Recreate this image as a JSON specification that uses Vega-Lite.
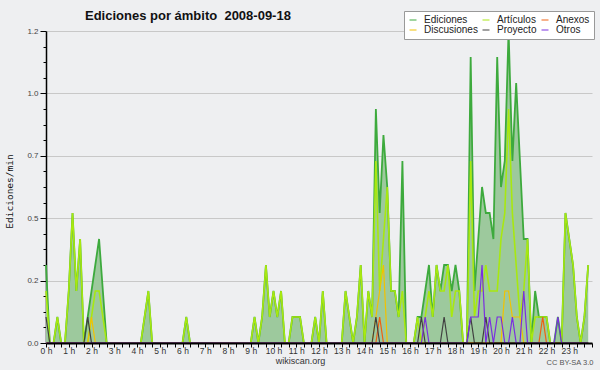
{
  "$schema": "https://vega.github.io/schema/vega-lite/v6.json",
  "width": 546,
  "height": 312,
  "autosize": "none",
  "padding": {"left": 46, "top": 31, "right": 8, "bottom": 27},
  "background": "#eeeff1",
  "config": {"view": {"stroke": null}, "font": "Liberation Sans"},
  "title": {"text": "Ediciones por ámbito \u00a02008-09-18", "anchor": "start", "frame": "group", "dx": 39, "offset": -12, "font": "Liberation Sans", "fontSize": 13, "fontWeight": "bold", "color": "#111111"},
  "data": {"values": [
    {"m":0,"ed":0.3,"art":0.2,"anx":0,"dis":0,"pro":0.1,"otr":0},
    {"m":10,"ed":0,"art":0,"anx":0,"dis":0,"pro":0,"otr":0},
    {"m":20,"ed":0,"art":0,"anx":0,"dis":0,"pro":0,"otr":0},
    {"m":30,"ed":0.1,"art":0.1,"anx":0,"dis":0,"pro":0,"otr":0},
    {"m":40,"ed":0,"art":0,"anx":0,"dis":0,"pro":0,"otr":0},
    {"m":50,"ed":0,"art":0,"anx":0,"dis":0,"pro":0,"otr":0},
    {"m":60,"ed":0.2,"art":0.2,"anx":0,"dis":0,"pro":0,"otr":0},
    {"m":70,"ed":0.5,"art":0.5,"anx":0,"dis":0,"pro":0,"otr":0},
    {"m":80,"ed":0.2,"art":0.2,"anx":0,"dis":0,"pro":0,"otr":0},
    {"m":90,"ed":0.4,"art":0.4,"anx":0,"dis":0,"pro":0,"otr":0},
    {"m":100,"ed":0,"art":0,"anx":0,"dis":0,"pro":0,"otr":0},
    {"m":110,"ed":0.1,"art":0,"anx":0,"dis":0,"pro":0.1,"otr":0},
    {"m":120,"ed":0.2,"art":0.1,"anx":0,"dis":0.1,"pro":0,"otr":0},
    {"m":130,"ed":0.3,"art":0.2,"anx":0,"dis":0,"pro":0,"otr":0},
    {"m":140,"ed":0.4,"art":0.2,"anx":0,"dis":0,"pro":0,"otr":0},
    {"m":150,"ed":0.2,"art":0.1,"anx":0,"dis":0,"pro":0,"otr":0},
    {"m":160,"ed":0,"art":0,"anx":0,"dis":0,"pro":0,"otr":0},
    {"m":170,"ed":0,"art":0,"anx":0,"dis":0,"pro":0,"otr":0},
    {"m":180,"ed":0,"art":0,"anx":0,"dis":0,"pro":0,"otr":0},
    {"m":190,"ed":0,"art":0,"anx":0,"dis":0,"pro":0,"otr":0},
    {"m":200,"ed":0,"art":0,"anx":0,"dis":0,"pro":0,"otr":0},
    {"m":210,"ed":0,"art":0,"anx":0,"dis":0,"pro":0,"otr":0},
    {"m":220,"ed":0,"art":0,"anx":0,"dis":0,"pro":0,"otr":0},
    {"m":230,"ed":0,"art":0,"anx":0,"dis":0,"pro":0,"otr":0},
    {"m":240,"ed":0,"art":0,"anx":0,"dis":0,"pro":0,"otr":0},
    {"m":250,"ed":0,"art":0,"anx":0,"dis":0,"pro":0,"otr":0},
    {"m":260,"ed":0.1,"art":0.1,"anx":0,"dis":0,"pro":0,"otr":0},
    {"m":270,"ed":0.2,"art":0.2,"anx":0,"dis":0,"pro":0,"otr":0},
    {"m":280,"ed":0,"art":0,"anx":0,"dis":0,"pro":0,"otr":0},
    {"m":290,"ed":0,"art":0,"anx":0,"dis":0,"pro":0,"otr":0},
    {"m":300,"ed":0,"art":0,"anx":0,"dis":0,"pro":0,"otr":0},
    {"m":310,"ed":0,"art":0,"anx":0,"dis":0,"pro":0,"otr":0},
    {"m":320,"ed":0,"art":0,"anx":0,"dis":0,"pro":0,"otr":0},
    {"m":330,"ed":0,"art":0,"anx":0,"dis":0,"pro":0,"otr":0},
    {"m":340,"ed":0,"art":0,"anx":0,"dis":0,"pro":0,"otr":0},
    {"m":350,"ed":0,"art":0,"anx":0,"dis":0,"pro":0,"otr":0},
    {"m":360,"ed":0,"art":0,"anx":0,"dis":0,"pro":0,"otr":0},
    {"m":370,"ed":0.1,"art":0.1,"anx":0,"dis":0,"pro":0,"otr":0},
    {"m":380,"ed":0,"art":0,"anx":0,"dis":0,"pro":0,"otr":0},
    {"m":390,"ed":0,"art":0,"anx":0,"dis":0,"pro":0,"otr":0},
    {"m":400,"ed":0,"art":0,"anx":0,"dis":0,"pro":0,"otr":0},
    {"m":410,"ed":0,"art":0,"anx":0,"dis":0,"pro":0,"otr":0},
    {"m":420,"ed":0,"art":0,"anx":0,"dis":0,"pro":0,"otr":0},
    {"m":430,"ed":0,"art":0,"anx":0,"dis":0,"pro":0,"otr":0},
    {"m":440,"ed":0,"art":0,"anx":0,"dis":0,"pro":0,"otr":0},
    {"m":450,"ed":0,"art":0,"anx":0,"dis":0,"pro":0,"otr":0},
    {"m":460,"ed":0,"art":0,"anx":0,"dis":0,"pro":0,"otr":0},
    {"m":470,"ed":0,"art":0,"anx":0,"dis":0,"pro":0,"otr":0},
    {"m":480,"ed":0,"art":0,"anx":0,"dis":0,"pro":0,"otr":0},
    {"m":490,"ed":0,"art":0,"anx":0,"dis":0,"pro":0,"otr":0},
    {"m":500,"ed":0,"art":0,"anx":0,"dis":0,"pro":0,"otr":0},
    {"m":510,"ed":0,"art":0,"anx":0,"dis":0,"pro":0,"otr":0},
    {"m":520,"ed":0,"art":0,"anx":0,"dis":0,"pro":0,"otr":0},
    {"m":530,"ed":0,"art":0,"anx":0,"dis":0,"pro":0,"otr":0},
    {"m":540,"ed":0,"art":0,"anx":0,"dis":0,"pro":0,"otr":0},
    {"m":550,"ed":0.1,"art":0.1,"anx":0,"dis":0,"pro":0,"otr":0},
    {"m":560,"ed":0,"art":0,"anx":0,"dis":0,"pro":0,"otr":0},
    {"m":570,"ed":0.1,"art":0.1,"anx":0,"dis":0,"pro":0,"otr":0},
    {"m":580,"ed":0.3,"art":0.3,"anx":0,"dis":0,"pro":0,"otr":0},
    {"m":590,"ed":0.1,"art":0.1,"anx":0,"dis":0,"pro":0,"otr":0},
    {"m":600,"ed":0.2,"art":0.2,"anx":0,"dis":0,"pro":0,"otr":0},
    {"m":610,"ed":0.1,"art":0.1,"anx":0,"dis":0,"pro":0,"otr":0},
    {"m":620,"ed":0.2,"art":0.2,"anx":0,"dis":0,"pro":0,"otr":0},
    {"m":630,"ed":0,"art":0,"anx":0,"dis":0,"pro":0,"otr":0},
    {"m":640,"ed":0,"art":0,"anx":0,"dis":0,"pro":0,"otr":0},
    {"m":650,"ed":0.1,"art":0.1,"anx":0,"dis":0,"pro":0,"otr":0},
    {"m":660,"ed":0.1,"art":0.1,"anx":0,"dis":0,"pro":0,"otr":0},
    {"m":670,"ed":0.1,"art":0.1,"anx":0,"dis":0,"pro":0,"otr":0},
    {"m":680,"ed":0,"art":0,"anx":0,"dis":0,"pro":0,"otr":0},
    {"m":690,"ed":0,"art":0,"anx":0,"dis":0,"pro":0,"otr":0},
    {"m":700,"ed":0,"art":0,"anx":0,"dis":0,"pro":0,"otr":0},
    {"m":710,"ed":0.1,"art":0.1,"anx":0,"dis":0,"pro":0,"otr":0},
    {"m":720,"ed":0,"art":0,"anx":0,"dis":0,"pro":0,"otr":0},
    {"m":730,"ed":0.2,"art":0.2,"anx":0,"dis":0,"pro":0,"otr":0},
    {"m":740,"ed":0,"art":0,"anx":0,"dis":0,"pro":0,"otr":0},
    {"m":750,"ed":0,"art":0,"anx":0,"dis":0,"pro":0,"otr":0},
    {"m":760,"ed":0,"art":0,"anx":0,"dis":0,"pro":0,"otr":0},
    {"m":770,"ed":0,"art":0,"anx":0,"dis":0,"pro":0,"otr":0},
    {"m":780,"ed":0,"art":0,"anx":0,"dis":0,"pro":0,"otr":0},
    {"m":790,"ed":0.2,"art":0.2,"anx":0,"dis":0,"pro":0,"otr":0},
    {"m":800,"ed":0.1,"art":0.1,"anx":0,"dis":0,"pro":0,"otr":0},
    {"m":810,"ed":0,"art":0,"anx":0,"dis":0,"pro":0,"otr":0},
    {"m":820,"ed":0.1,"art":0.1,"anx":0,"dis":0,"pro":0,"otr":0},
    {"m":830,"ed":0.3,"art":0.3,"anx":0,"dis":0,"pro":0,"otr":0},
    {"m":840,"ed":0,"art":0,"anx":0,"dis":0,"pro":0,"otr":0},
    {"m":850,"ed":0.2,"art":0.2,"anx":0,"dis":0,"pro":0,"otr":0},
    {"m":860,"ed":0.1,"art":0.1,"anx":0,"dis":0,"pro":0,"otr":0},
    {"m":870,"ed":0.9,"art":0.7,"anx":0,"dis":0.1,"pro":0.1,"otr":0},
    {"m":880,"ed":0.5,"art":0.2,"anx":0.1,"dis":0.2,"pro":0,"otr":0},
    {"m":890,"ed":0.8,"art":0.4,"anx":0,"dis":0.3,"pro":0,"otr":0},
    {"m":900,"ed":0.6,"art":0.6,"anx":0,"dis":0,"pro":0,"otr":0},
    {"m":910,"ed":0.2,"art":0.2,"anx":0,"dis":0,"pro":0,"otr":0},
    {"m":920,"ed":0.2,"art":0.2,"anx":0,"dis":0,"pro":0,"otr":0},
    {"m":930,"ed":0.1,"art":0.1,"anx":0,"dis":0,"pro":0,"otr":0},
    {"m":940,"ed":0.7,"art":0.2,"anx":0,"dis":0,"pro":0,"otr":0},
    {"m":950,"ed":0,"art":0,"anx":0,"dis":0,"pro":0,"otr":0},
    {"m":960,"ed":0,"art":0,"anx":0,"dis":0,"pro":0,"otr":0},
    {"m":970,"ed":0,"art":0,"anx":0,"dis":0,"pro":0,"otr":0},
    {"m":980,"ed":0.1,"art":0.1,"anx":0,"dis":0,"pro":0,"otr":0},
    {"m":990,"ed":0.1,"art":0,"anx":0,"dis":0,"pro":0.1,"otr":0},
    {"m":1000,"ed":0.2,"art":0.1,"anx":0,"dis":0,"pro":0,"otr":0.1},
    {"m":1010,"ed":0.3,"art":0.2,"anx":0,"dis":0,"pro":0,"otr":0},
    {"m":1020,"ed":0.1,"art":0.1,"anx":0,"dis":0,"pro":0,"otr":0},
    {"m":1030,"ed":0.3,"art":0.3,"anx":0,"dis":0,"pro":0,"otr":0},
    {"m":1040,"ed":0.2,"art":0.2,"anx":0,"dis":0,"pro":0,"otr":0},
    {"m":1050,"ed":0.3,"art":0.2,"anx":0,"dis":0,"pro":0.1,"otr":0},
    {"m":1060,"ed":0.3,"art":0.3,"anx":0,"dis":0,"pro":0,"otr":0},
    {"m":1070,"ed":0.2,"art":0.1,"anx":0,"dis":0,"pro":0,"otr":0},
    {"m":1080,"ed":0.3,"art":0.2,"anx":0,"dis":0,"pro":0,"otr":0},
    {"m":1090,"ed":0.2,"art":0.2,"anx":0,"dis":0,"pro":0,"otr":0},
    {"m":1100,"ed":0,"art":0,"anx":0,"dis":0,"pro":0,"otr":0},
    {"m":1110,"ed":0,"art":0,"anx":0,"dis":0,"pro":0,"otr":0},
    {"m":1120,"ed":1.1,"art":0.7,"anx":0,"dis":0,"pro":0.1,"otr":0.1},
    {"m":1130,"ed":0.2,"art":0.1,"anx":0,"dis":0,"pro":0,"otr":0.1},
    {"m":1140,"ed":0.4,"art":0.2,"anx":0,"dis":0,"pro":0,"otr":0.1},
    {"m":1150,"ed":0.6,"art":0.2,"anx":0,"dis":0,"pro":0,"otr":0.3},
    {"m":1160,"ed":0.5,"art":0.3,"anx":0,"dis":0,"pro":0.1,"otr":0},
    {"m":1170,"ed":0.5,"art":0.2,"anx":0,"dis":0,"pro":0,"otr":0.1},
    {"m":1180,"ed":0.4,"art":0.2,"anx":0,"dis":0,"pro":0,"otr":0},
    {"m":1190,"ed":1.1,"art":0.2,"anx":0,"dis":0,"pro":0,"otr":0.1},
    {"m":1200,"ed":0.6,"art":0.4,"anx":0,"dis":0,"pro":0,"otr":0.1},
    {"m":1210,"ed":0.7,"art":0.5,"anx":0,"dis":0.2,"pro":0,"otr":0},
    {"m":1220,"ed":1.2,"art":0.9,"anx":0,"dis":0.2,"pro":0,"otr":0},
    {"m":1230,"ed":0.7,"art":0.5,"anx":0,"dis":0.1,"pro":0,"otr":0.1},
    {"m":1240,"ed":1.0,"art":0.3,"anx":0,"dis":0.1,"pro":0,"otr":0},
    {"m":1250,"ed":0.7,"art":0.1,"anx":0,"dis":0.1,"pro":0,"otr":0},
    {"m":1260,"ed":0.4,"art":0.2,"anx":0,"dis":0,"pro":0,"otr":0.2},
    {"m":1270,"ed":0.4,"art":0.4,"anx":0,"dis":0,"pro":0,"otr":0},
    {"m":1280,"ed":0,"art":0,"anx":0,"dis":0,"pro":0,"otr":0},
    {"m":1290,"ed":0.2,"art":0.1,"anx":0,"dis":0,"pro":0,"otr":0},
    {"m":1300,"ed":0.1,"art":0.1,"anx":0,"dis":0,"pro":0,"otr":0},
    {"m":1310,"ed":0.1,"art":0.1,"anx":0.1,"dis":0,"pro":0,"otr":0},
    {"m":1320,"ed":0.1,"art":0.1,"anx":0,"dis":0,"pro":0,"otr":0},
    {"m":1330,"ed":0,"art":0,"anx":0,"dis":0,"pro":0,"otr":0},
    {"m":1340,"ed":0,"art":0,"anx":0,"dis":0,"pro":0,"otr":0},
    {"m":1350,"ed":0.1,"art":0,"anx":0,"dis":0,"pro":0,"otr":0.1},
    {"m":1360,"ed":0,"art":0,"anx":0,"dis":0,"pro":0,"otr":0},
    {"m":1370,"ed":0.5,"art":0.5,"anx":0,"dis":0,"pro":0,"otr":0},
    {"m":1380,"ed":0.4,"art":0.4,"anx":0,"dis":0,"pro":0,"otr":0},
    {"m":1390,"ed":0.3,"art":0.3,"anx":0,"dis":0,"pro":0,"otr":0},
    {"m":1400,"ed":0.1,"art":0.1,"anx":0,"dis":0,"pro":0,"otr":0},
    {"m":1410,"ed":0,"art":0,"anx":0,"dis":0,"pro":0,"otr":0},
    {"m":1420,"ed":0.1,"art":0.1,"anx":0,"dis":0,"pro":0,"otr":0},
    {"m":1430,"ed":0.3,"art":0.3,"anx":0,"dis":0,"pro":0,"otr":0}
  ]},
  "layer": [
    {
      "mark": {"type": "area", "color": "#9dc99d", "opacity": 1, "interpolate": "linear"},
      "encoding": {
        "x": {"field": "m", "type": "quantitative", "scale": {"domain": [0, 1440], "nice": false, "zero": false},
          "axis": {
            "values": [0,20,40,60,80,100,120,140,160,180,200,220,240,260,280,300,320,340,360,380,400,420,440,460,480,500,520,540,560,580,600,620,640,660,680,700,720,740,760,780,800,820,840,860,880,900,920,940,960,980,1000,1020,1040,1060,1080,1100,1120,1140,1160,1180,1200,1220,1240,1260,1280,1300,1320,1340,1360,1380,1400,1420,1440],
            "labelExpr": "(datum.value % 60 == 0 && datum.value < 1440) ? (datum.value / 60) + ' h' : ''",
            "labelOverlap": false, "labelFlush": false, "labelFont": "Liberation Sans", "labelFontSize": 8.5, "labelColor": "#333333", "labelPadding": -1,
            "tickSize": 4, "tickColor": "#000000", "tickWidth": 1, "domainColor": "#000000", "domainWidth": 2, "grid": false,
            "title": "wikiscan.org", "titleFont": "Liberation Sans", "titleFontSize": 9, "titleFontWeight": "normal", "titleColor": "#333333",
            "titleX": 254, "titleY": 20, "titleBaseline": "alphabetic", "titleAlign": "center", "zindex": 1
          }},
        "y": {"field": "ed", "type": "quantitative", "scale": {"domain": [0, 1.2], "nice": false},
          "axis": {
            "values": [0,0.06,0.12,0.18,0.24,0.3,0.36,0.42,0.48,0.54,0.6,0.66,0.72,0.78,0.84,0.9,0.96,1.02,1.08,1.14,1.2],
            "labelExpr": "abs(datum.value / 0.24 - round(datum.value / 0.24)) < 0.001 ? format(datum.value, '.1f') : ''",
            "labelOverlap": false, "labelFlush": false, "labelFont": "Liberation Sans", "labelFontSize": 8, "labelColor": "#444444", "labelPadding": 2,
            "tickSize": {"condition": {"test": "abs(datum.value / 0.24 - round(datum.value / 0.24)) < 0.001", "value": 6}, "value": 3},
            "tickColor": "#000000", "domainColor": "#000000", "domainWidth": 1.5,
            "grid": true, "gridColor": "#c8c8c8",
            "gridOpacity": {"condition": {"test": "abs(datum.value / 0.24 - round(datum.value / 0.24)) < 0.001", "value": 1}, "value": 0},
            "title": "Ediciones/min", "titleFont": "DejaVu Sans Mono", "titleFontSize": 9.5, "titleFontWeight": "normal", "titleColor": "#111111",
            "titleX": -34, "titleY": 160, "titleBaseline": "alphabetic", "titleAlign": "center"
          }}
      }
    },
    {
      "mark": {"type": "line", "strokeWidth": 1.8, "interpolate": "linear"},
      "encoding": {
        "x": {"field": "m", "type": "quantitative", "axis": null},
        "y": {"field": "ed", "type": "quantitative", "axis": null},
        "color": {"datum": "Ediciones", "type": "nominal",
          "scale": {"domain": ["Ediciones", "Artículos", "Anexos", "Discusiones", "Proyecto", "Otros"], "range": ["#3daa3d", "#a8e810", "#f06010", "#f2c200", "#404040", "#7a2ee0"]},
          "legend": {"orient": "none", "legendX": 358, "legendY": -20, "direction": "horizontal", "columns": 3, "title": null,
            "symbolType": "stroke", "symbolSize": 49, "symbolStrokeWidth": 1.5, "symbolOpacity": 0.65,
            "labelFont": "Liberation Sans", "labelFontSize": 10, "labelColor": "#222222", "labelOffset": 6, "labelLimit": 200,
            "fillColor": "#ffffff", "strokeColor": "#999999", "padding": 4, "rowPadding": 0, "columnPadding": 1, "cornerRadius": 0, "gridAlign": "each"}}
      }
    },
    {
      "mark": {"type": "line", "strokeWidth": 1.6, "interpolate": "linear"},
      "encoding": {
        "x": {"field": "m", "type": "quantitative", "axis": null},
        "y": {"field": "art", "type": "quantitative", "axis": null},
        "color": {"datum": "Artículos", "type": "nominal"}
      }
    },
    {
      "mark": {"type": "line", "strokeWidth": 1.2, "interpolate": "linear"},
      "encoding": {
        "x": {"field": "m", "type": "quantitative", "axis": null},
        "y": {"field": "dis", "type": "quantitative", "axis": null},
        "color": {"datum": "Discusiones", "type": "nominal"}
      }
    },
    {
      "mark": {"type": "line", "strokeWidth": 1.2, "interpolate": "linear"},
      "encoding": {
        "x": {"field": "m", "type": "quantitative", "axis": null},
        "y": {"field": "anx", "type": "quantitative", "axis": null},
        "color": {"datum": "Anexos", "type": "nominal"}
      }
    },
    {
      "mark": {"type": "line", "strokeWidth": 1.2, "interpolate": "linear"},
      "encoding": {
        "x": {"field": "m", "type": "quantitative", "axis": null},
        "y": {"field": "pro", "type": "quantitative", "axis": null},
        "color": {"datum": "Proyecto", "type": "nominal"}
      }
    },
    {
      "mark": {"type": "line", "strokeWidth": 1.2, "interpolate": "linear"},
      "encoding": {
        "x": {"field": "m", "type": "quantitative",
          "axis": {"orient": "bottom", "title": "CC BY-SA 3.0", "labels": false, "ticks": false, "domain": false, "grid": false,
            "titleX": 523.5, "titleY": 21, "titleFont": "Liberation Sans", "titleFontSize": 7.5, "titleFontWeight": "normal", "titleColor": "#555555", "titleBaseline": "alphabetic", "titleAlign": "center"}},
        "y": {"field": "otr", "type": "quantitative", "axis": null},
        "color": {"datum": "Otros", "type": "nominal"}
      }
    }
  ],
  "resolve": {"axis": {"x": "independent", "y": "independent"}}
}
